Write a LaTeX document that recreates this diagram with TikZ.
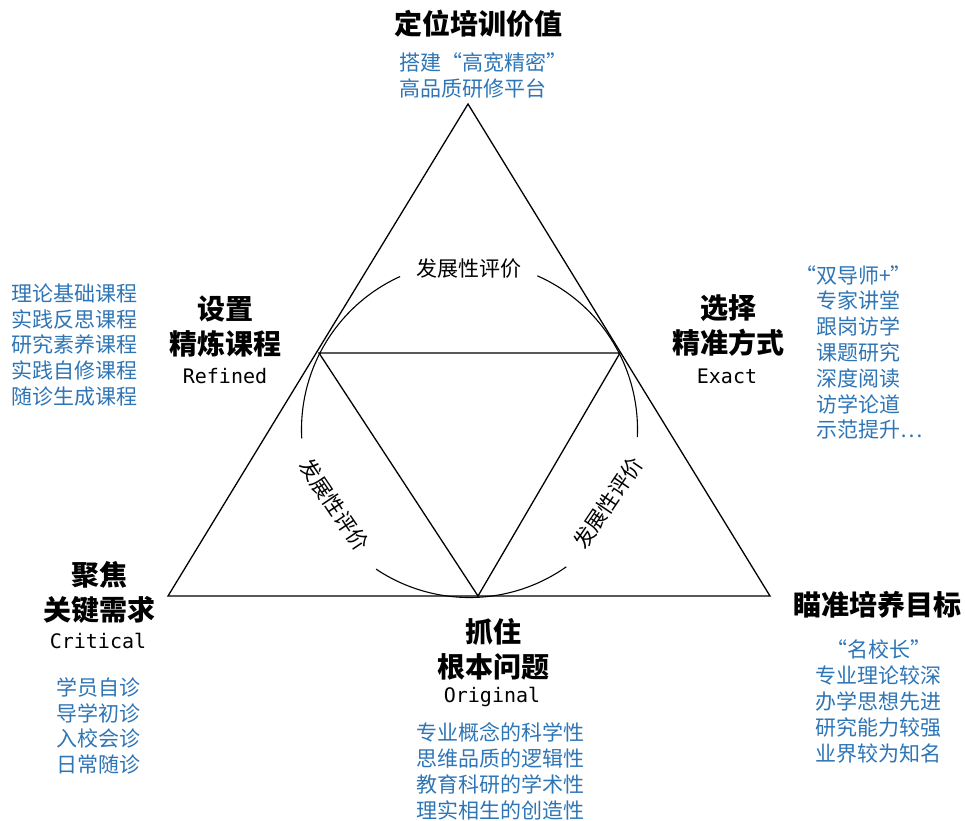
\documentclass[tikz,border=0pt]{standalone}
\usepackage{fontspec}
\newfontfamily\cjk{Noto Sans CJK SC}
\newfontfamily\monof{DejaVu Sans Mono}
\definecolor{txtblue}{RGB}{46,117,182}
\newcommand\fwqo{\makebox[1em][r]{“}}
\newcommand\fwqc{\makebox[1em][l]{”}}
\begin{document}
\begin{tikzpicture}[x=1pt,y=1pt,
  head/.style={font=\cjk\bfseries\fontsize{28}{35}\selectfont, align=center, inner sep=0pt},
  eng/.style={font=\monof\fontsize{20}{24}\selectfont, inner sep=0pt},
  bluetxt/.style={text=txtblue, font=\cjk\fontsize{21}{25.8}\selectfont, align=center, inner sep=0pt},
  evals/.style={font=\cjk\fontsize{21}{25}\selectfont, inner sep=0pt},
  edge/.style={line width=1.3pt, line join=miter},
  arcline/.style={line width=1.1pt}
]
\useasboundingbox (0,0) rectangle (965,-820);
% outer triangle
\coordinate (A) at (468,-104);
\coordinate (BL) at (168,-596);
\coordinate (BR) at (770,-596);
% inner triangle
\coordinate (L) at (319,-353);
\coordinate (R) at (620,-353);
\coordinate (B) at (478,-596);
\coordinate (C) at (469.5,-429.5);
\draw[edge] (A) -- (BL) -- (BR) -- cycle;
\draw[edge] (L) -- (R) -- (B) -- cycle;
% evaluation arcs
\draw[arcline] (C) ++(114.4:168pt) arc[start angle=114.4, end angle=183, radius=168pt];
\draw[arcline] (C) ++(66.2:168pt) arc[start angle=66.2, end angle=-2.6, radius=168pt];
\draw[arcline] (C) ++(236.2:168pt) arc[start angle=236.2, end angle=305.2, radius=168pt];
\node[evals] (evtop) at (468.5,-269) {发展性评价};
\node[evals, rotate=-56] (evleft) at (334,-505) {发展性评价};
\node[evals, rotate=56] (evright) at (608,-503) {发展性评价};
% top
\node[head] (title) at (478,-24) {定位培训价值};
\node[bluetxt, align=left, anchor=west] (titlesub) at (399,-75.5) {搭建\fwqo 高宽精密\fwqc\\高品质研修平台};
% left
\node[head] (refh) at (225,-327) {设置\\精炼课程};
\node[eng] (refe) at (225,-376) {Refined};
\node[bluetxt] (reflist) at (74.5,-345) {理论基础课程\\实践反思课程\\研究素养课程\\实践自修课程\\随诊生成课程};
% right
\node[head] (exh) at (728,-325) {选择\\精准方式};
\node[eng] (exe) at (727,-376) {Exact};
\node[bluetxt, align=left, anchor=west] (exlist) at (816,-352.5) {\makebox[0pt][r]{\fwqo}双导师+\fwqc\\专家讲堂\\跟岗访学\\课题研究\\深度阅读\\访学论道\\示范提升…};
% bottom left
\node[head] (crh) at (99,-592) {聚焦\\关键需求};
\node[eng] (cre) at (98,-641) {Critical};
\node[bluetxt] (crlist) at (98.5,-726) {学员自诊\\导学初诊\\入校会诊\\日常随诊};
% bottom centre
\node[head] (orh) at (493,-649) {抓住\\根本问题};
\node[eng] (ore) at (492,-697) {Original};
\node[bluetxt] (orlist) at (500,-771.5) {专业概念的科学性\\思维品质的逻辑性\\教育科研的学术性\\理实相生的创造性};
% bottom right
\node[head] (goal) at (877,-605) {瞄准培养目标};
\node[bluetxt] (goallist) at (878.5,-701.5) {\fwqo 名校长\fwqc\\专业理论较深\\办学思想先进\\研究能力较强\\业界较为知名};
\end{tikzpicture}
\end{document}
